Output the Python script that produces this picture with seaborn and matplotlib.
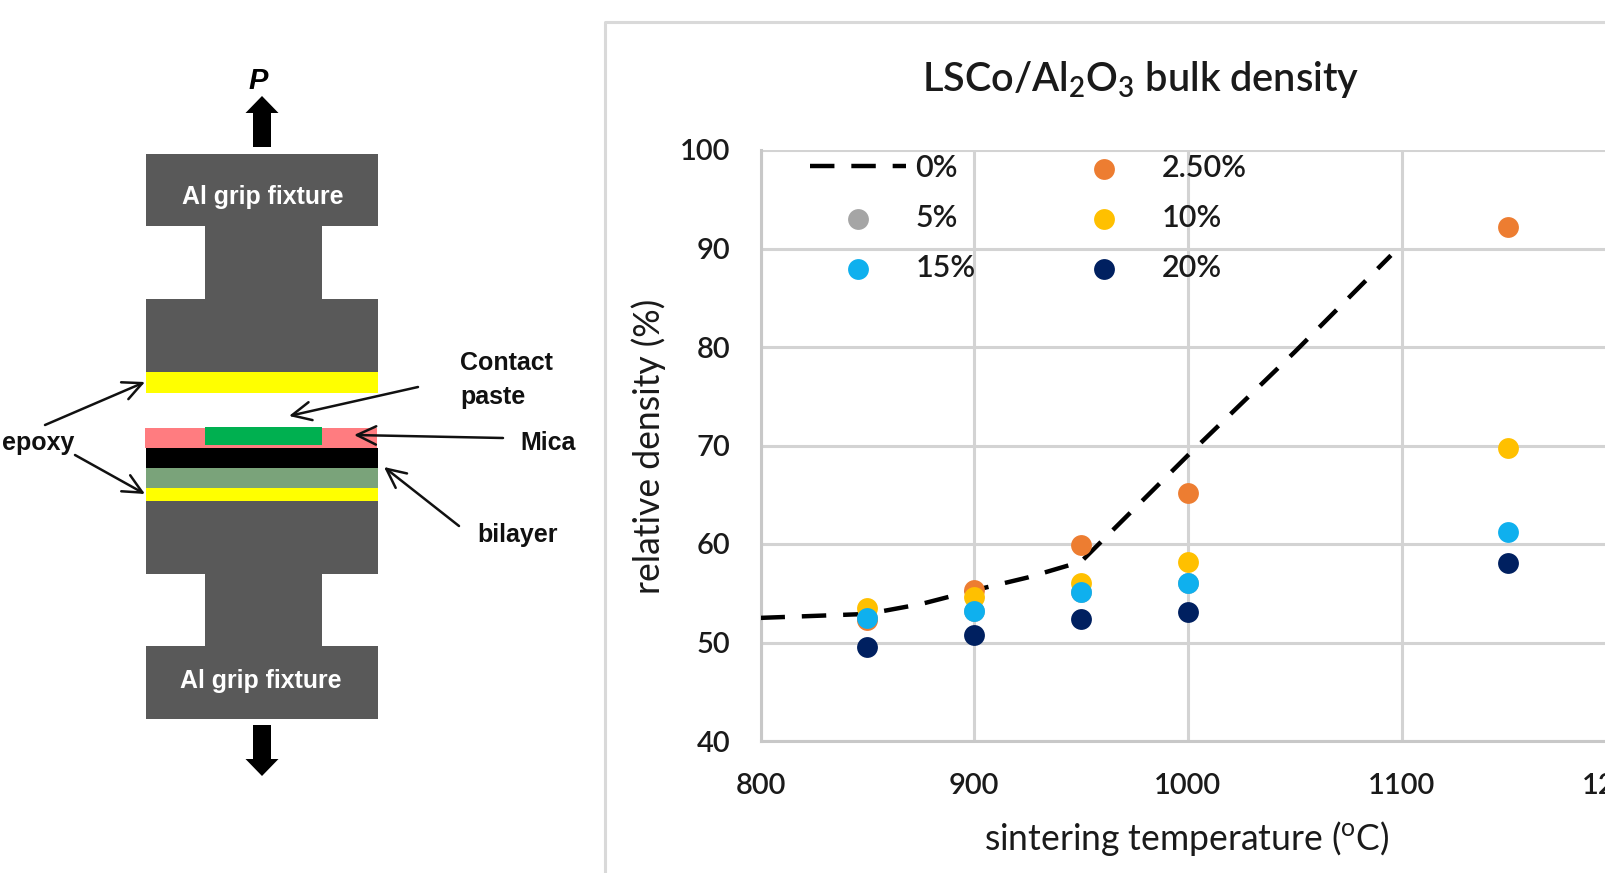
import matplotlib
matplotlib.use('Agg')
import matplotlib.pyplot as plt
from matplotlib.patches import Rectangle, FancyArrow
import seaborn as sns

# Curve 0%
line_temp = [800, 825, 850, 875, 900, 925, 950, 1000, 1050, 1095]
line_0 = [52.5, 52.7, 52.9, 53.9, 55.3, 56.6, 58.2, 69.0, 79.5, 89.3]

# Points
temps = [850, 900, 950, 1000, 1150]
temps_5 = [850, 900, 950, 1000]
dens_25 = [52.3, 55.3, 59.9, 65.2, 92.2]
dens_5 = [52.5, 53.2, 55.1, 56.0]  # hidden behind the 10% and 15% points
dens_10 = [53.5, 54.6, 56.0, 58.2, 69.7]
dens_15 = [52.5, 53.2, 55.1, 56.0, 61.2]
dens_20 = [49.5, 50.8, 52.4, 53.1, 58.1]

y_ticks = [40, 50, 60, 70, 80, 90, 100]
x_ticks = [800, 900, 1000, 1100, 1200]

sns.set_theme(style='white')
plt.rcParams['font.family'] = ['Lato', 'DejaVu Sans']
plt.rcParams['font.weight'] = 'semibold'
plt.rcParams['mathtext.fontset'] = 'custom'
plt.rcParams['mathtext.rm'] = 'Lato:semibold'
plt.rcParams['mathtext.default'] = 'regular'

fig = plt.figure(figsize=(16.05, 8.73), dpi=100, facecolor='white')

# Whole-picture layer in pixels, for the fixture drawing
bg = fig.add_axes([0, 0, 1, 1])
bg.set_xlim(0, 1605)
bg.set_ylim(873, 0)
bg.axis('off')

gray = '#595959'
blocks = [
    (145.5, 154, 232.5, 72, gray),
    (204.5, 226, 117.5, 73, gray),
    (145.5, 299, 232.5, 73, gray),
    (145.5, 372, 232, 21, '#FFFF00'),
    (144.5, 428, 232.5, 20, '#FF7C80'),
    (204.5, 427, 117.5, 18, '#00B050'),
    (146, 448, 232, 20, 'black'),
    (146, 468, 232, 20, '#7AA37A'),
    (146, 488, 232, 13, '#FFFF00'),
    (145.5, 501, 232.5, 72.5, gray),
    (204.5, 573, 117.5, 73, gray),
    (145.5, 646, 232.5, 73, gray),
]
for x0, y0, w, h, col in blocks:
    bg.add_patch(Rectangle((x0, y0), w, h, facecolor=col, edgecolor='none'))

bg.add_patch(FancyArrow(262, 147, 0, -51, width=18, head_width=33, head_length=17,
                        length_includes_head=True, color='black', lw=0))
bg.add_patch(FancyArrow(262, 725, 0, 51, width=18, head_width=33, head_length=17,
                        length_includes_head=True, color='black', lw=0))

arrows = [
    ((45, 425), (145, 382)),
    ((418, 387), (289, 416)),
    ((503, 438), (354, 435)),
    ((75, 455), (145, 494)),
    ((459, 526), (384, 467)),
]
for start, end in arrows:
    bg.annotate('', xy=end, xytext=start,
                arrowprops=dict(arrowstyle='->,head_length=1.15,head_width=0.55', color='#111111',
                                lw=1.8, shrinkA=0, shrinkB=0))

lab = dict(family='Liberation Sans', fontweight='bold', va='center')
bg.text(258, 81, 'P', fontsize=21, ha='center', style='italic', color='black', **lab)
bg.text(263, 197, 'Al grip fixture', fontsize=17.9, ha='center', color='white', **lab)
bg.text(261, 681, 'Al grip fixture', fontsize=17.9, ha='center', color='white', **lab)
bg.text(460, 363, 'Contact', fontsize=18, ha='left', color='#111111', **lab)
bg.text(460, 397, 'paste', fontsize=18, ha='left', color='#111111', **lab)
bg.text(520, 443, 'Mica', fontsize=18, ha='left', color='#111111', **lab)
bg.text(2, 443, 'epoxy', fontsize=18, ha='left', color='#111111', **lab)
bg.text(477, 535, 'bilayer', fontsize=18, ha='left', color='#111111', **lab)

# Chart frame, runs off the right and bottom edges
bg.plot([605, 605, 1605], [873, 21.5, 21.5], color='#d9d9d9', lw=2.2)
bg.text(1141, 80, 'LSCo/Al$_2$O$_3$ bulk density', fontsize=28.5, ha='center', va='center',
        color='#1a1a1a')

# Chart axes go past the canvas so that 1200 is cut like in the original
px_per_unit = 2.137
ax_right = 1720
ax = fig.add_axes([760.5 / 1605, (873 - 741) / 873, (ax_right - 760.5) / 1605, (741 - 150) / 873])
ax.patch.set_alpha(0)
sns.lineplot(x=line_temp, y=line_0, ax=ax, color='black', lw=3.2, linestyle=(0, (5.5, 3.8)),
             label='0%', errorbar=None, zorder=3)
for t, d, col, name in [(temps_5, dens_5, '#A5A5A5', '5%'),
                        (temps, dens_25, '#ED7D31', '2.50%'),
                        (temps, dens_10, '#FFC000', '10%'),
                        (temps, dens_15, '#0FB0EE', '15%'),
                        (temps, dens_20, '#002060', '20%')]:
    sns.scatterplot(x=t, y=d, ax=ax, color=col, s=225, linewidth=0, label=name, zorder=4)

ax.set_xlim(800, 800 + (ax_right - 760.5) / px_per_unit)
ax.set_ylim(40, 100)
ax.set_xticks(x_ticks)
ax.set_yticks(y_ticks)
ax.grid(True, color='#d3d3d3', lw=2.2)
ax.set_axisbelow(True)
ax.tick_params(length=0, labelsize=21, labelcolor='#1a1a1a')
ax.tick_params(axis='x', pad=23)
ax.tick_params(axis='y', pad=22)
for s in ['top', 'right']:
    ax.spines[s].set_visible(False)
for s in ['left', 'bottom']:
    ax.spines[s].set_color('#c8c8c8')
    ax.spines[s].set_linewidth(2.2)

ax.set_xlabel('sintering temperature ($^{o}$C)', fontsize=25.6, color='#1a1a1a')
ax.set_ylabel('relative density (%)', fontsize=25.6, color='#1a1a1a')
ax.xaxis.set_label_coords((1187 - 760.5) / (ax_right - 760.5), -97 / 591, transform=ax.transAxes)
ax.yaxis.set_label_coords(-112 / (ax_right - 760.5), (741 - 446) / 591, transform=ax.transAxes)
ax.xaxis.label.set_va('center')
ax.yaxis.label.set_va('center')

handles, names = ax.get_legend_handles_labels()
by_name = dict(zip(names, handles))
order = ['0%', '5%', '15%', '2.50%', '10%', '20%']
ax.legend([by_name[n] for n in order], order, ncol=2, frameon=False, fontsize=22,
          loc='upper left', bbox_to_anchor=(810, 154), bbox_transform=bg.transData,
          borderpad=0, borderaxespad=0, handlelength=3.15, handletextpad=0.3,
          columnspacing=2.63, labelspacing=0.72, labelcolor='#1a1a1a')

fig.savefig('out.png', dpi=100)
